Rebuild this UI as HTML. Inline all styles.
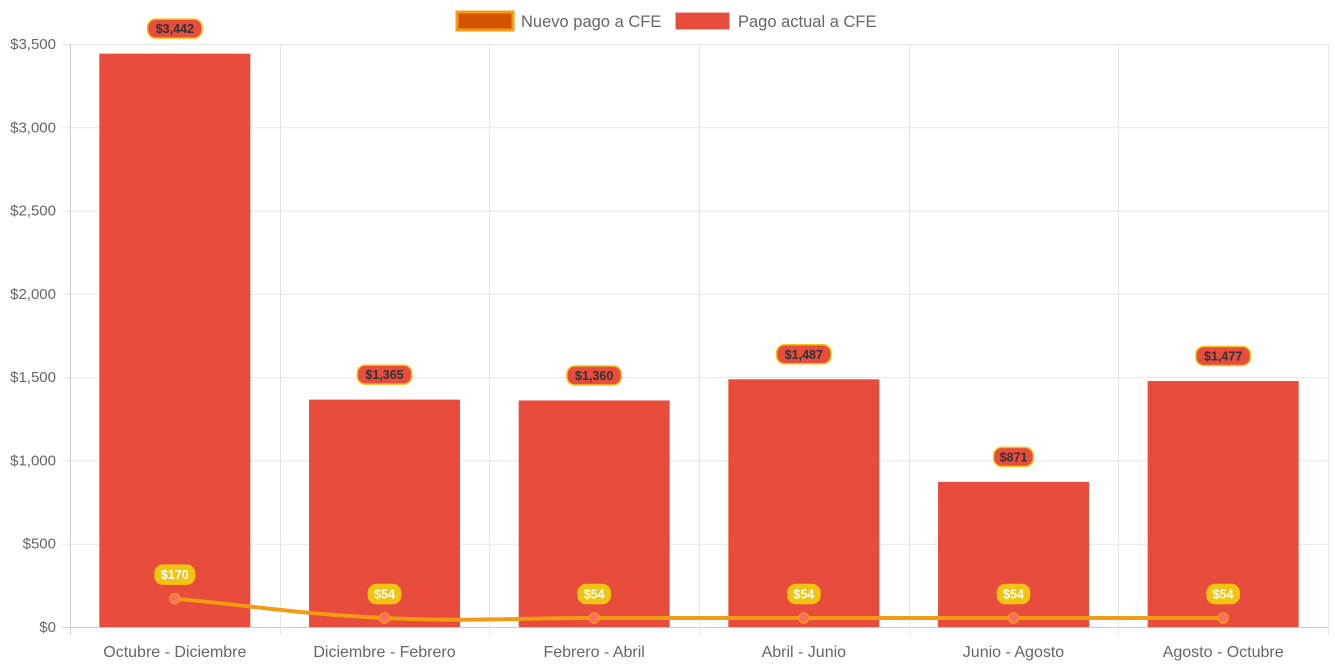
<!DOCTYPE html>
<html><head><meta charset="utf-8"><style>
body{margin:0;background:#fff;width:1335px;height:666px;overflow:hidden}
svg{font-family:"Liberation Sans",Arial,sans-serif}
</style></head><body>
<svg id="c" width="1335" height="666"></svg>
<script>
const categories=["Octubre - Diciembre","Diciembre - Febrero","Febrero - Abril","Abril - Junio","Junio - Agosto","Agosto - Octubre"];
const actualValues=[3442,1365,1360,1487,871,1477];
const nuevoValues=[170,54,54,54,54,54];
const yTicks=[0,500,1000,1500,2000,2500,3000,3500];
const NS="http://www.w3.org/2000/svg";
const svg=document.getElementById('c');
const L=70,R=1328,T=44,B=627,yMax=3500;
const cw=(R-L)/categories.length;
const xc=i=>L+cw*(i+0.5);
const y=v=>B-(v/yMax)*(B-T);
const fmt=v=>'$'+v.toLocaleString('en-US');
function mk(tag,attrs,parent){const e=document.createElementNS(NS,tag);for(const k in attrs)e.setAttribute(k,attrs[k]);(parent||svg).appendChild(e);return e;}
yTicks.forEach(t=>{
  const g=mk('line',{x1:62,x2:R,y1:y(t)+0.5,y2:y(t)+0.5,stroke:t===0?'#ccc':'#e5e5e5','stroke-width':1});
  
  
  const tx=mk('text',{x:56,y:y(t)+5,'text-anchor':'end','font-size':15,fill:'#666'});
  tx.textContent=fmt(t);
  
  
});
for(let i=0;i<=categories.length;i++){
  const x=Math.round(L+cw*i)+0.5;
  const g=mk('line',{x1:x,x2:x,y1:T,y2:635,stroke:i===0?'#ccc':'#e5e5e5','stroke-width':1});
  
  
}
categories.forEach((c,i)=>{
  const tx=mk('text',{x:xc(i),y:657,'text-anchor':'middle','font-size':16,fill:'#666'});
  tx.textContent=c;
  
  
});
const bw=cw*0.72;
actualValues.forEach((v,i)=>{
  const r=mk('rect',{x:xc(i)-bw/2,y:y(v),width:bw,height:B-y(v),fill:'#e74c3c'});
  
  
});
const pts=nuevoValues.map((v,i)=>({x:xc(i),y:y(v)}));
const t=0.4,cps=[];
pts.forEach((p,i)=>{
  const pr=pts[i-1]||p,nx=pts[i+1]||p;
  const d01=Math.hypot(p.x-pr.x,p.y-pr.y),d12=Math.hypot(nx.x-p.x,nx.y-p.y);
  let s01=d01/(d01+d12)||0,s12=d12/(d01+d12)||0;
  const fa=t*s01,fb=t*s12;
  cps.push({p:{x:p.x-fa*(nx.x-pr.x),y:p.y-fa*(nx.y-pr.y)},n:{x:p.x+fb*(nx.x-pr.x),y:p.y+fb*(nx.y-pr.y)}});
});
let d='M'+pts[0].x+','+pts[0].y;
for(let i=1;i<pts.length;i++)d+=` C${cps[i-1].n.x},${cps[i-1].n.y} ${cps[i].p.x},${cps[i].p.y} ${pts[i].x},${pts[i].y}`;
const ln=mk('path',{d:d,fill:'none',stroke:'#f39c12','stroke-width':4});


pts.forEach((p,i)=>{
  const c=mk('circle',{cx:p.x,cy:p.y,r:5,fill:'#ff6b6b',stroke:'#f39c12','stroke-width':1.5});
  
  
});
function pill(cx,cy,text,bg,border,color,name){
  const w=text.length*7.4+10;
  const r=mk('rect',{x:cx-w/2,y:cy-9.5,width:w,height:19,rx:8,fill:bg,stroke:border,'stroke-width':1.5});
  
  
  const tx=mk('text',{x:cx,y:cy+4.5,'text-anchor':'middle','font-size':12.5,'font-weight':'bold',fill:color});
  tx.textContent=text;
  
  
}
actualValues.forEach((v,i)=>pill(xc(i),y(v)-25,fmt(v),'#e74c3c','#f1c40f','#333','bar-value-label'));
nuevoValues.forEach((v,i)=>pill(xc(i),y(v)-24,fmt(v),'#f1c40f','#f1c40f','#fff','line-value-label'));
const lg=mk('g',{});


const s1=mk('rect',{x:457,y:12,width:56,height:18,fill:'#d35400',stroke:'#f39c12','stroke-width':3},lg);


const t1=mk('text',{x:521,y:27,'font-size':16.5,fill:'#666'},lg);t1.textContent='Nuevo pago a CFE';


const s2=mk('rect',{x:675.5,y:12.5,width:54,height:17,fill:'#e74c3c',stroke:'#f5b7b1','stroke-width':1},lg);


const t2=mk('text',{x:738,y:27,'font-size':16.5,fill:'#666'},lg);t2.textContent='Pago actual a CFE';


</script>
</body></html>
